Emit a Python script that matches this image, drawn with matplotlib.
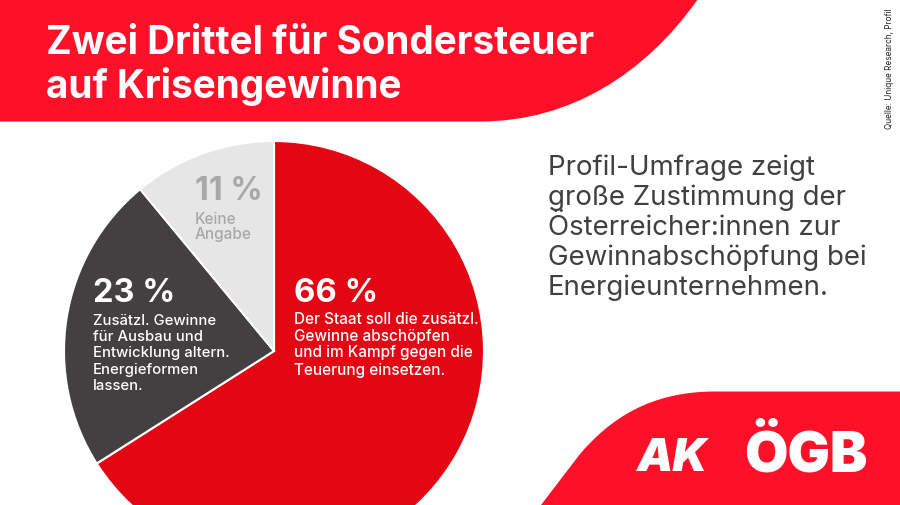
import matplotlib
matplotlib.use("Agg")
import matplotlib.pyplot as plt
from matplotlib.patches import PathPatch
from matplotlib.path import Path

plt.rcParams["font.family"] = ["Inter", "DejaVu Sans"]

shares = [66, 23, 11]
share_labels = ["66 %", "23 %", "11 %"]
slice_colors = ["#e30613", "#444041", "#e6e6e6"]
title_lines = ["Zwei Drittel für Sondersteuer", "auf Krisengewinne"]
intro_lines = ["Profil-Umfrage zeigt", "große Zustimmung der", "Österreicher:innen zur",
               "Gewinnabschöpfung bei", "Energieunternehmen."]
red_text = ["Der Staat soll die zusätzl.", "Gewinne abschöpfen", "und im Kampf gegen die", "Teuerung einsetzen."]
dark_text = ["Zusätzl. Gewinne", "für Ausbau und", "Entwicklung altern.", "Energieformen", "lassen."]
grey_text = ["Keine", "Angabe"]
source = "Quelle: Unique Research, Profil"

RED = "#ff1029"
H = 506


def y(py):
    # picture pixels count from the top
    return H - py


fig = plt.figure(figsize=(9, 5.06), dpi=100)
ax = fig.add_axes([0, 0, 1, 1])

ax.pie(shares, colors=slice_colors, startangle=90, counterclock=False,
       center=(274, y(352)), radius=210, frame=True,
       wedgeprops={"edgecolor": "white", "linewidth": 1.5})
ax.set_xlim(0, 900)
ax.set_ylim(0, H)
ax.set_aspect("auto")
ax.axis("off")

# red corner shapes
top = Path([(0, y(0)), (698, y(0)), (645, y(75)), (570, y(122.5)), (480, y(122.5)), (0, y(122.5)), (0, y(0))],
           [Path.MOVETO, Path.LINETO, Path.CURVE4, Path.CURVE4, Path.CURVE4, Path.LINETO, Path.CLOSEPOLY])
ax.add_patch(PathPatch(top, fc=RED, ec="none", zorder=3))
bottom = Path([(900, y(392.5)), (715, y(392.5)), (650, y(392.5)), (610, y(420)), (580, y(455)),
               (541, y(506)), (900, y(506)), (900, y(392.5))],
              [Path.MOVETO, Path.LINETO, Path.CURVE4, Path.CURVE4, Path.CURVE4,
               Path.LINETO, Path.LINETO, Path.CLOSEPOLY])
ax.add_patch(PathPatch(bottom, fc=RED, ec="none", zorder=3))

for line, py in zip(title_lines, [43, 86]):
    ax.text(46, y(py), line, color="white", fontsize=27.9, fontweight="bold", va="center", zorder=4)

for line, py in zip(intro_lines, [168, 198, 228, 258, 288]):
    ax.text(548, y(py), line, color="#404040", fontsize=19.9, va="center", zorder=4)

ax.text(294, y(294), share_labels[0], color="white", fontsize=23.8, fontweight="bold", va="center", zorder=4)
for line, py in zip(red_text, [320, 337, 353, 370]):
    ax.text(294, y(py), line, color="white", fontsize=11, fontweight="medium", va="center", zorder=4)

ax.text(93, y(294), share_labels[1], color="white", fontsize=23.4, fontweight="bold", va="center", zorder=4)
for line, py in zip(dark_text, [321, 337, 353, 370, 386]):
    ax.text(93, y(py), line, color="white", fontsize=10.7, fontweight="medium", va="center", zorder=4)

ax.text(195, y(191), share_labels[2], color="#a8a8a8", fontsize=23, fontweight="bold", va="center", zorder=4)
for line, py in zip(grey_text, [219, 235]):
    ax.text(195, y(py), line, color="#a8a8a8", fontsize=11, fontweight="medium", va="center", zorder=4)

ax.text(890, y(68.5), source, color="#222222", fontsize=5.9, rotation=90, ha="center", va="center", zorder=4)

# logos
ax.text(672, y(471), "AK", color="white", fontsize=33, fontweight="black", style="italic",
        ha="center", va="baseline", zorder=4)
ax.text(805.5, y(472), "ÖGB", color="white", fontsize=40.5, fontweight="black",
        ha="center", va="baseline", zorder=4)

fig.savefig("out.png", dpi=100)
